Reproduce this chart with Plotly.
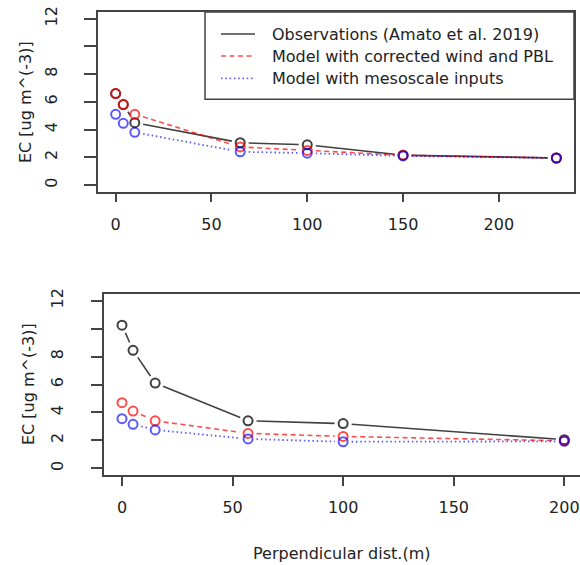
import plotly.graph_objects as go

# ---- data -------------------------------------------------------------
dist_top = [0, 4, 10, 65, 100, 150, 230]
obs_top = [6.6, 5.8, 4.5, 3.05, 2.9, 2.15, 1.95]
corr_top = [6.6, 5.8, 5.1, 2.75, 2.5, 2.15, 1.95]
meso_top = [5.1, 4.45, 3.8, 2.4, 2.3, 2.1, 1.95]

dist_bot = [0, 5, 15, 57, 100, 200]
obs_bot = [10.25, 8.45, 6.1, 3.4, 3.2, 2.05]
corr_bot = [4.7, 4.1, 3.4, 2.5, 2.28, 1.97]
meso_bot = [3.55, 3.15, 2.75, 2.1, 1.9, 1.93]

series_names = [
    "Observations (Amato et al. 2019)",
    "Model with corrected wind and PBL",
    "Model with mesoscale inputs",
]
y_ticks = [0, 2, 4, 6, 8, 10, 12]
y_tick_text = ["0", "2", "4", "6", "8", "", "12"]
x_ticks = [0, 50, 100, 150, 200]
y_title = "EC [ug m^(-3)]"
x_title = "Perpendicular dist.(m)"

# ---- page geometry (pixels) --------------------------------------------
W, H = 580, 565
FONT = "DejaVu Sans"
TXT = "#222222"
FRAME = "#444444"

panels = {
    "top": dict(left=98, right=574, top=12, bottom=191.7,
                xr=[-9.2, 239.2], yr=[-0.48, 12.48]),
    "bot": dict(left=104.3, right=580, top=294, bottom=475,
                xr=[-8, 207.1], yr=[-0.48, 12.48]),
}

styles = [
    dict(color="rgba(0,0,0,0.75)", dash="solid", width=1.6),
    dict(color="rgba(255,0,0,0.7)", dash="5px,3.5px", width=1.6),
    dict(color="rgba(0,0,255,0.65)", dash="1.5px,2.8px", width=1.8),
]

GAP = 8.5  # px cleared around each point (lines + points style)


def gapped(xs, ys, p):
    """Segments between consecutive points, trimmed near each point."""
    sx = (p["right"] - p["left"]) / (p["xr"][1] - p["xr"][0])
    sy = (p["bottom"] - p["top"]) / (p["yr"][1] - p["yr"][0])
    ox, oy = [], []
    for i in range(len(xs) - 1):
        dx = (xs[i + 1] - xs[i]) * sx
        dy = (ys[i + 1] - ys[i]) * sy
        d = (dx * dx + dy * dy) ** 0.5
        if d <= 2 * GAP:
            continue
        f = GAP / d
        ox += [xs[i] + (xs[i + 1] - xs[i]) * f,
               xs[i + 1] - (xs[i + 1] - xs[i]) * f, None]
        oy += [ys[i] + (ys[i + 1] - ys[i]) * f,
               ys[i + 1] - (ys[i + 1] - ys[i]) * f, None]
    return ox, oy


fig = go.Figure()

for key, xa, ya, data in [
    ("top", "x", "y", (dist_top, [obs_top, corr_top, meso_top])),
    ("bot", "x2", "y2", (dist_bot, [obs_bot, corr_bot, meso_bot])),
]:
    xs, ys_list = data
    p = panels[key]
    for name, ys, st in zip(series_names, ys_list, styles):
        lx, ly = gapped(xs, ys, p)
        fig.add_trace(go.Scatter(
            x=lx, y=ly, mode="lines", xaxis=xa, yaxis=ya, name=name,
            line=dict(color=st["color"], dash=st["dash"], width=st["width"]),
            connectgaps=False, showlegend=False, hoverinfo="skip"))
        fig.add_trace(go.Scatter(
            x=xs, y=ys, mode="markers", xaxis=xa, yaxis=ya, name=name,
            marker=dict(symbol="circle-open", size=9, color=st["color"],
                        line=dict(width=2, color=st["color"])),
            showlegend=False))


def xdom(p):
    return [p["left"] / W, p["right"] / W]


def ydom(p):
    return [(H - p["bottom"]) / H, (H - p["top"]) / H]


axis_common = dict(showgrid=False, zeroline=False, showline=True,
                   linecolor=FRAME, linewidth=1.5, ticks="outside",
                   tickcolor=FRAME, tickwidth=1.5, automargin=False,
                   tickfont=dict(family=FONT, size=16, color=TXT))

pt, pb = panels["top"], panels["bot"]
fig.update_layout(
    width=W, height=H,
    margin=dict(l=0, r=0, t=0, b=0),
    paper_bgcolor="white", plot_bgcolor="white",
    xaxis=dict(domain=xdom(pt), range=pt["xr"], anchor="y", mirror=True,
               tickvals=x_ticks, ticklen=9, ticklabelstandoff=8,
               **axis_common),
    yaxis=dict(domain=ydom(pt), range=pt["yr"], anchor="x", mirror=True,
               tickvals=y_ticks, ticktext=y_tick_text, tickangle=-90,
               ticklen=12, ticklabelstandoff=21, **axis_common),
    xaxis2=dict(domain=xdom(pb), range=pb["xr"], anchor="y2", mirror=True,
                tickvals=x_ticks, ticklen=9, ticklabelstandoff=8,
                **axis_common),
    yaxis2=dict(domain=ydom(pb), range=pb["yr"], anchor="x2", mirror=False,
                tickvals=y_ticks, ticktext=y_tick_text, tickangle=-90,
                ticklen=12, ticklabelstandoff=21, **axis_common),
)

# axis titles
fig.add_annotation(text=y_title, x=26 / W, y=(H - 102) / H, xref="paper",
                   yref="paper", xanchor="center", yanchor="middle",
                   textangle=-90, showarrow=False,
                   font=dict(family=FONT, size=16, color=TXT))
fig.add_annotation(text=y_title, x=28 / W, y=(H - 384) / H, xref="paper",
                   yref="paper", xanchor="center", yanchor="middle",
                   textangle=-90, showarrow=False,
                   font=dict(family=FONT, size=16, color=TXT))
fig.add_annotation(text=x_title, x=341 / W, y=(H - 553) / H, xref="paper",
                   yref="paper", xanchor="center", yanchor="middle",
                   showarrow=False,
                   font=dict(family=FONT, size=16, color=TXT))

# legend box in the top panel
leg_left, leg_right, leg_top, leg_bottom = 205, 574, 12, 99.3
fig.add_shape(type="rect", xref="paper", yref="paper",
              x0=leg_left / W, x1=leg_right / W,
              y0=(H - leg_bottom) / H, y1=(H - leg_top) / H,
              line=dict(color=FRAME, width=1.5), fillcolor="white", layer="above")
rows = [34, 56, 78.3]
for name, st, ry in zip(series_names, styles, rows):
    fig.add_shape(type="line", xref="paper", yref="paper",
                  x0=221 / W, x1=255 / W, y0=(H - ry) / H, y1=(H - ry) / H,
                  line=dict(color=st["color"], dash=st["dash"],
                            width=st["width"]), layer="above")
    fig.add_annotation(text=name, x=270 / W, y=(H - ry) / H, xref="paper",
                       yref="paper", xanchor="left", yanchor="middle",
                       showarrow=False,
                       font=dict(family=FONT, size=16, color=TXT))

fig.write_html("out.html")
